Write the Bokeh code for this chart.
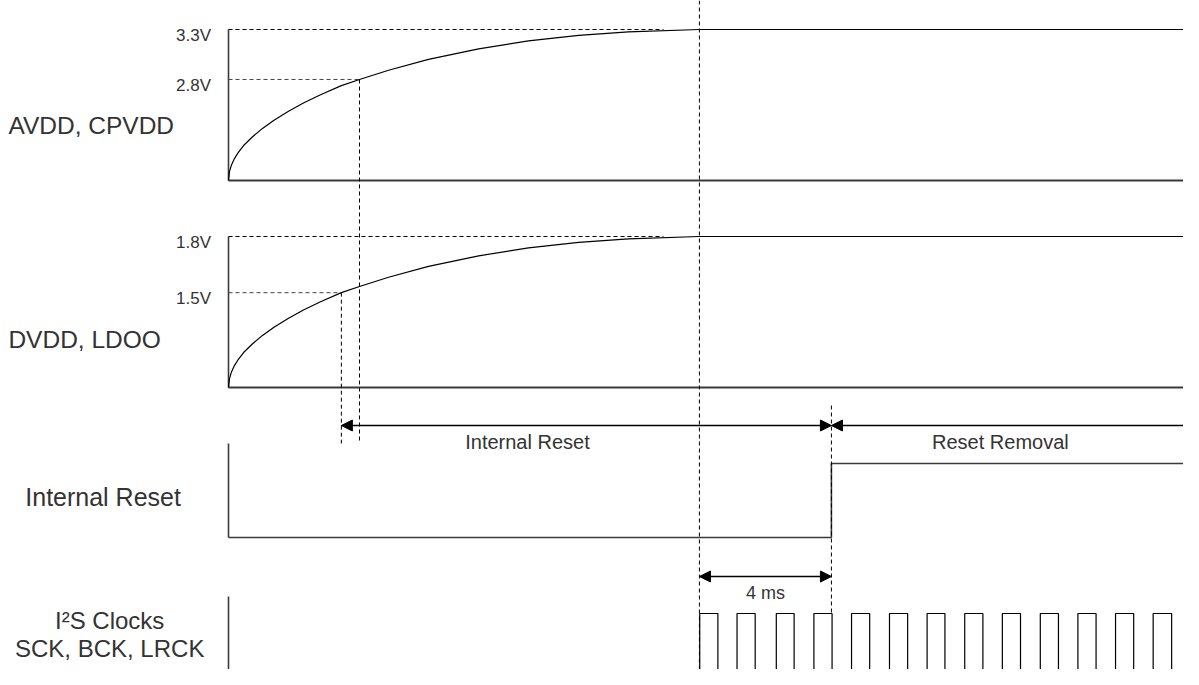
from bokeh.plotting import figure
from bokeh.models import Range1d, Arrow, NormalHead
from bokeh.embed import file_html
from bokeh.resources import INLINE
from bokeh.core.properties import value

# ---------------- data (time in ms, level = fraction of full rail) ----------------
ramp_t = [0.0, 0.03, 0.09, 0.18, 0.30, 0.48, 0.73, 1.03, 1.39, 1.82, 2.27, 2.79,
          3.42, 3.97, 4.85, 6.06, 7.58, 9.09, 10.61, 12.12, 14.27]
avdd_level = [0.0, 0.059, 0.103, 0.145, 0.187, 0.237, 0.290, 0.345, 0.401, 0.458, 0.513,
              0.568, 0.628, 0.669, 0.730, 0.802, 0.872, 0.925, 0.961, 0.984, 1.0]
dvdd_level = [0.0, 0.059, 0.103, 0.145, 0.187, 0.237, 0.290, 0.345, 0.401, 0.458, 0.513,
              0.568, 0.628, 0.669, 0.730, 0.802, 0.872, 0.925, 0.961, 0.984, 1.0]

avdd_tick_labels = ["3.3V", "2.8V"]
avdd_tick_levels = [1.0, 0.669]
dvdd_tick_labels = ["1.8V", "1.5V"]
dvdd_tick_levels = [1.0, 0.628]

t_avdd_28 = 3.97      # AVDD crosses 2.8 V
t_dvdd_15 = 3.42      # DVDD crosses 1.5 V
t_ramp_done = 14.27   # supplies settled, clocks start
reset_delay = 4.0     # ms
t_reset = 18.27       # reset removal
t_guide_end = 13.18   # end of the full-rail dashed guides

clk_rise = [14.28, 15.41, 16.60, 17.74, 18.88, 20.03, 21.17, 22.31, 23.45, 24.60,
            25.74, 26.88, 28.02, 29.17]
clk_fall = [14.83, 15.96, 17.14, 18.29, 19.43, 20.58, 21.71, 22.86, 24.00, 25.15,
            26.29, 27.43, 28.58, 29.72]

row_labels = ["AVDD, CPVDD", "DVDD, LDOO", "Internal Reset", "I\u00b2S Clocks", "SCK, BCK, LRCK"]
span_labels = ["Internal Reset", "Reset Removal", "4 ms"]
span_label_t = [9.06, 23.39]

# ---------------- layout ----------------
W, H = 1183, 669
PX_PER_MS = 33.0
T_LEFT = -228.0 / PX_PER_MS
T_RIGHT = T_LEFT + W / PX_PER_MS

AVDD_BASE, AVDD_H = 180, 151
DVDD_BASE, DVDD_H = 387, 151
RST_LOW, RST_HIGH, RST_TOP = 537, 463, 443
CLK_HIGH, CLK_LOW, CLK_TOP = 613, 720, 596
SPAN_Y, SPAN_TEXT_Y = 425, 441
MS_Y, MS_TEXT_Y = 576, 592
FONT = value("Liberation Sans")
TXT = "#333333"
AX = "#3a3a3a"

p = figure(width=W, height=H, x_range=Range1d(T_LEFT, T_RIGHT), y_range=Range1d(H, 0),
           x_axis_type=None, y_axis_type=None, output_backend="svg",
           toolbar_location=None, min_border=0)
p.grid.visible = False
p.outline_line_color = None
p.background_fill_color = "white"
p.border_fill_color = "white"


def lvl(base, h, levels):
    return [base - v * h for v in levels]


# supply rows
for base, hgt, levels, tlabels, tlevels, t_cross in [
        (AVDD_BASE, AVDD_H, avdd_level, avdd_tick_labels, avdd_tick_levels, t_avdd_28),
        (DVDD_BASE, DVDD_H, dvdd_level, dvdd_tick_labels, dvdd_tick_levels, t_dvdd_15)]:
    top = base - hgt
    p.line([0, 0], [top, base], line_color=AX, line_width=1.6)
    p.line([0, T_RIGHT + 1], [base, base], line_color=AX, line_width=1.8)
    ty = lvl(base, hgt, tlevels)
    p.line([0, t_guide_end], [ty[0], ty[0]], line_color="black", line_dash="4 3", line_width=1)
    p.line([0, t_cross], [ty[1], ty[1]], line_color="#444444", line_dash="4 3", line_width=1)
    p.line([t_cross, t_cross], [ty[1], RST_TOP], line_color="black", line_dash="4 3", line_width=1)
    xs = ramp_t + [T_RIGHT + 1]
    ys = lvl(base, hgt, levels + [levels[-1]])
    p.line(xs, ys, line_color="black", line_width=1.2, line_join="round")
    p.text(x=[-0.53] * 2, y=[y + 6 for y in ty], text=tlabels, text_align="right",
           text_baseline="middle", text_font=FONT, text_font_size="17px", text_color=TXT)

# reset line
p.line([0, 0], [RST_TOP, RST_LOW], line_color=AX, line_width=1.6)
p.line([0, t_reset, t_reset, T_RIGHT + 1], [RST_LOW, RST_LOW, RST_HIGH, RST_HIGH],
       line_color=AX, line_width=1.6)

# clocks
p.line([0, 0], [CLK_TOP, CLK_LOW], line_color=AX, line_width=1.6)
p.multi_line(xs=[[r, r, f, f] for r, f in zip(clk_rise, clk_fall)],
             ys=[[CLK_LOW, CLK_HIGH, CLK_HIGH, CLK_LOW]] * len(clk_rise),
             line_color="black", line_width=1.2)

# long dashed verticals
p.line([t_ramp_done, t_ramp_done], [0, H + 10], line_color="black", line_dash="4 3", line_width=1)
p.line([t_reset, t_reset], [SPAN_Y - 20, CLK_HIGH], line_color="black", line_dash="4 3", line_width=1)


def head():
    return NormalHead(size=11, fill_color="black", line_color="black", line_width=1)


p.add_layout(Arrow(start=head(), end=head(), x_start=t_dvdd_15, y_start=SPAN_Y,
                   x_end=t_reset, y_end=SPAN_Y, line_color="black", line_width=1.4))
p.add_layout(Arrow(start=head(), end=None, x_start=t_reset, y_start=SPAN_Y,
                   x_end=T_RIGHT + 1, y_end=SPAN_Y, line_color="black", line_width=1.4))
p.add_layout(Arrow(start=head(), end=head(), x_start=t_ramp_done, y_start=MS_Y,
                   x_end=t_ramp_done + reset_delay, y_end=MS_Y, line_color="black", line_width=1.4))

p.text(x=span_label_t, y=[SPAN_TEXT_Y] * 2, text=span_labels[:2], text_align="center",
       text_baseline="middle", text_font=FONT, text_font_size="20px", text_color=TXT)
p.text(x=[t_ramp_done + reset_delay / 2], y=[MS_TEXT_Y], text=[span_labels[2]],
       text_align="center", text_baseline="middle", text_font=FONT,
       text_font_size="18px", text_color=TXT)

# row labels
p.text(x=[T_LEFT + 0.24, T_LEFT + 0.24], y=[125, 339], text=row_labels[:2], text_align="left",
       text_baseline="middle", text_font=FONT, text_font_size="24.5px", text_color=TXT)
p.text(x=[-3.8], y=[496], text=[row_labels[2]], text_align="center",
       text_baseline="middle", text_font=FONT, text_font_size="25px", text_color=TXT)
p.text(x=[-3.6, -3.6], y=[620, 648], text=row_labels[3:], text_align="center",
       text_baseline="middle", text_font=FONT, text_font_size="24px", text_color=TXT)

open("out.html", "w").write(file_html(p, INLINE))
